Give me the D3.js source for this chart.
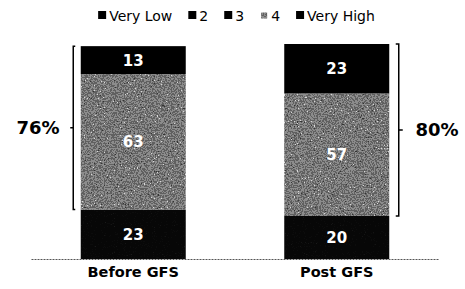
<!DOCTYPE html>
<html><head><meta charset="utf-8">
<script src="https://cdn.jsdelivr.net/npm/d3@7/dist/d3.min.js"></script>
<style>
html,body{margin:0;padding:0;background:#fff;}
svg{display:block;}
text{font-family:"DejaVu Sans",Verdana,sans-serif;}
</style></head>
<body>
<script>
// ---- data ----
const categories = ["Before GFS", "Post GFS"];
const seriesNames = ["Very Low", "2", "3", "4", "Very High"];
const veryLow  = [0, 0];
const two      = [0, 0];
const three    = [23, 20];
const four     = [63, 57];
const veryHigh = [13, 23];
const yTicks = [0, 100];

const W = 465, H = 289;
const svg = d3.select("body").append("svg").attr("width", W).attr("height", H);
const defs = svg.append("defs");

// speckle texture for series "4"
const f = defs.append("filter").attr("id","speckle").attr("x",0).attr("y",0).attr("width",1).attr("height",1)
  .attr("filterUnits","objectBoundingBox").attr("color-interpolation-filters","sRGB");
f.append("feTurbulence").attr("type","fractalNoise").attr("baseFrequency","0.7").attr("numOctaves",2).attr("seed",7).attr("result","n");
f.append("feColorMatrix").attr("in","n").attr("type","matrix")
  .attr("values","1 0 0 0 0  1 0 0 0 0  1 0 0 0 0  0 0 0 0 1").attr("result","g");
const ct = f.append("feComponentTransfer").attr("in","g").attr("result","b");
["feFuncR","feFuncG","feFuncB"].forEach(k=>ct.append(k).attr("type","discrete").attr("tableValues","0.2 0.38 0.55 0.85"));
f.append("feComposite").attr("in","b").attr("in2","SourceGraphic").attr("operator","in");

const fd = defs.append("filter").attr("id","dark").attr("x",0).attr("y",0).attr("width",1).attr("height",1)
  .attr("filterUnits","objectBoundingBox").attr("color-interpolation-filters","sRGB");
fd.append("feTurbulence").attr("type","fractalNoise").attr("baseFrequency","0.9").attr("numOctaves",2).attr("seed",3).attr("result","n");
fd.append("feColorMatrix").attr("in","n").attr("type","matrix")
  .attr("values","1 0 0 0 0  1 0 0 0 0  1 0 0 0 0  0 0 0 0 1").attr("result","g");
const ct2 = fd.append("feComponentTransfer").attr("in","g").attr("result","b");
["feFuncR","feFuncG","feFuncB"].forEach(k=>ct2.append(k).attr("type","discrete").attr("tableValues","0.03 0.03 0.03 0.03 0.03 0.03 0.03 0.03 0.03 0.03 0.03 0.03 0.05 0.05 0.08 0.1 0.2 0.45"));
fd.append("feComposite").attr("in","b").attr("in2","SourceGraphic").attr("operator","in");

const x = d3.scaleBand().domain(categories).range([31.5, 438.5]).paddingInner(0.484).paddingOuter(0.242);
const y = d3.scaleLinear().domain([yTicks[0], yTicks[1]]).range([259, 44]);

const table = categories.map((c,i)=>({cat:c, "Very Low":veryLow[i], "2":two[i], "3":three[i], "4":four[i], "Very High":veryHigh[i]}));
const stack = d3.stack().keys(seriesNames)(table);
const fills = {"Very Low":"#000","2":"#000","3":"#0a0a0a","4":"#888","Very High":"#000"};
const filt = {"3":"url(#dark)","4":"url(#speckle)"};

const labels = [];
stack.forEach(layer=>{
  layer.forEach((d,i)=>{
    const h = y(d[0]) - y(d[1]);
    if (h <= 0) return;
    const r = svg.append("rect").attr("x", x(d.data.cat)).attr("width", x.bandwidth())
      .attr("y", y(d[1])).attr("height", h).attr("fill", fills[layer.key]);
    if (filt[layer.key]) r.attr("filter", filt[layer.key]);
    labels.push({x: x(d.data.cat)+x.bandwidth()/2, y: (y(d[0])+y(d[1]))/2, v: d.data[layer.key]});
  });
});
svg.selectAll("text.val").data(labels).join("text").attr("class","val")
  .attr("x", d=>d.x).attr("y", d=>d.y).attr("dy","0.36em").attr("text-anchor","middle")
  .attr("fill","#fff").attr("font-size",15).attr("font-weight","bold").text(d=>d.v);

// baseline
svg.append("line").attr("x1",31.5).attr("x2",438.5).attr("y1",y(0)+0.5).attr("y2",y(0)+0.5)
  .attr("stroke","#555").attr("stroke-width",1).attr("stroke-dasharray","2,1");

// x labels
const xAxis = d3.axisBottom(x).tickSize(0).tickPadding(0);
const ax = svg.append("g").attr("transform",`translate(0,${y(0)+8})`).call(xAxis);
ax.select(".domain").remove();
ax.selectAll("text").attr("font-size",14.5).attr("font-weight","bold").attr("fill","#000")
  .attr("font-family","DejaVu Sans, sans-serif").attr("dy","0.71em");

// brackets
categories.forEach((c,i)=>{
  const top = y(three[i]+four[i]+veryHigh[i]+veryLow[i]+two[i]);
  const bot = y(veryLow[i]+two[i]+three[i]);
  const mid = (top+bot)/2;
  const pct = four[i]+veryHigh[i];
  const left = i===0;
  const bx = left ? x(c)-7.5 : x(c)+x.bandwidth()+9.5;
  const cap = left ? 2 : -3;
  const tick = left ? -3 : 4;
  const p = d3.path();
  p.moveTo(bx+cap, top); p.lineTo(bx, top); p.lineTo(bx, bot); p.lineTo(bx+cap, bot);
  p.moveTo(bx, mid); p.lineTo(bx+tick, mid);
  svg.append("path").attr("d", p.toString()).attr("fill","none").attr("stroke","#000").attr("stroke-width",1.5);
  svg.append("text").attr("x", left ? 38 : 437).attr("y", mid).attr("dy","0.36em")
    .attr("text-anchor","middle").attr("font-size",18).attr("font-weight","bold").text(pct+"%");
});

// legend
const lg = svg.append("g");
let cx = 0;
seriesNames.forEach((s,i)=>{
  const it = lg.append("g").attr("transform",`translate(${cx},0)`);
  if (s === "4") {
    it.append("rect").attr("x",1).attr("y",-8.5).attr("width",6).attr("height",6).attr("fill","#999").attr("filter","url(#speckle)");
  } else {
    it.append("rect").attr("x",0).attr("y",-10).attr("width",8).attr("height",8).attr("fill","#000");
  }
  const t = it.append("text").attr("x",11).attr("y",0).attr("font-size",14).attr("fill","#000").text(s);
  cx += 11 + t.node().getComputedTextLength() + 16;
});
const total = cx - 16;
lg.attr("transform",`translate(${236.5 - total/2},21)`);
</script>
</body></html>
